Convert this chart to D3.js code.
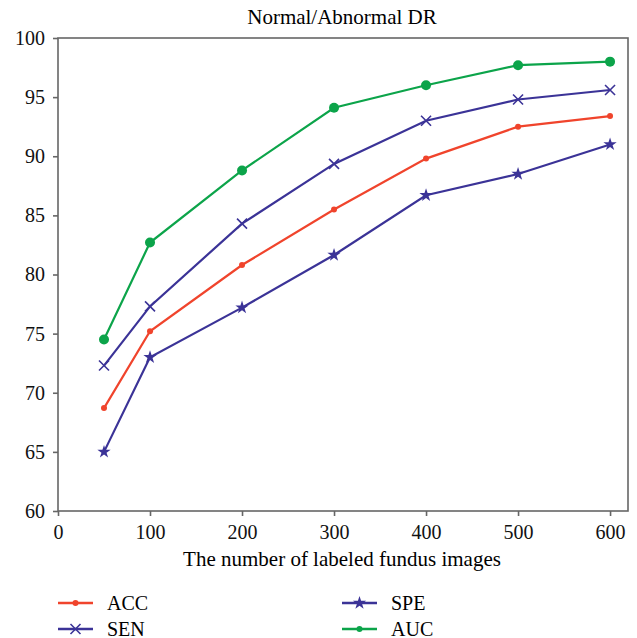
<!DOCTYPE html>
<html>
<head>
    <title>Normal/Abnormal DR</title>
    <script src="https://cdnjs.cloudflare.com/ajax/libs/d3/7.8.5/d3.min.js"></script>
    <style>
        body { margin: 0; background: #fff; }
        svg { font-family: "Liberation Serif", "DejaVu Serif", serif; }
        .tick text { font-size: 20px; fill: #111; }
    </style>
</head>
<body>
<div id="chart"></div>
<script>
const samples = [50, 100, 200, 300, 400, 500, 600];
const accValues = [68.7, 75.2, 80.8, 85.5, 89.8, 92.5, 93.4];
const senValues = [72.3, 77.3, 84.3, 89.35, 93.0, 94.8, 95.6];
const speValues = [65.0, 73.0, 77.2, 81.65, 86.7, 88.5, 91.0];
const aucValues = [74.5, 82.7, 88.8, 94.1, 96.0, 97.7, 98.0];
const xTicks = [0, 100, 200, 300, 400, 500, 600];
const yTicks = [60, 65, 70, 75, 80, 85, 90, 95, 100];

const series = [
    { name: 'ACC', values: accValues, color: '#f0442c', marker: 'dot' },
    { name: 'SEN', values: senValues, color: '#3b3397', marker: 'cross' },
    { name: 'SPE', values: speValues, color: '#3b3397', marker: 'star' },
    { name: 'AUC', values: aucValues, color: '#0ca44a', marker: 'bigdot' }
];

const width = 637, height = 638;
const plotLeft = 58, plotRight = 628, plotTop = 38, plotBottom = 511;

const svg = d3.select('#chart').append('svg')
    .attr('width', width)
    .attr('height', height);

const x = d3.scaleLinear().domain([0, 619.5]).range([plotLeft, plotRight]);
const y = d3.scaleLinear().domain([60, 100]).range([plotBottom, plotTop]);

// frame
svg.append('rect')
    .attr('x', plotLeft).attr('y', plotTop)
    .attr('width', plotRight - plotLeft).attr('height', plotBottom - plotTop)
    .attr('fill', 'none')
    .attr('stroke', '#666')
    .attr('stroke-width', 1.6);

// axes
const xAxis = svg.append('g')
    .attr('transform', `translate(0,${plotBottom})`)
    .call(d3.axisBottom(x).tickValues(xTicks).tickSize(5).tickPadding(9));
const yAxis = svg.append('g')
    .attr('transform', `translate(${plotLeft},0)`)
    .call(d3.axisLeft(y).tickValues(yTicks).tickSize(5).tickPadding(8));
[xAxis, yAxis].forEach(a => {
    a.select('.domain').remove();
    a.selectAll('.tick line').attr('stroke', '#666').attr('stroke-width', 1.6);
    a.selectAll('.tick text').style('font-family', '"Liberation Serif", serif');
});

// title and axis label
svg.append('text')
    .attr('x', 342).attr('y', 24)
    .attr('text-anchor', 'middle')
    .style('font-size', '21px')
    .text('Normal/Abnormal DR');
svg.append('text')
    .attr('x', 342).attr('y', 566)
    .attr('text-anchor', 'middle')
    .style('font-size', '21px')
    .text('The number of labeled fundus images');

const line = d3.line()
    .x((d, i) => x(samples[i]))
    .y(d => y(d));

function drawMarker(g, type, color) {
    if (type === 'dot') {
        g.append('circle').attr('r', 3).attr('fill', color);
    } else if (type === 'bigdot') {
        g.append('circle').attr('r', 5).attr('fill', color);
    } else if (type === 'cross') {
        g.append('path').attr('d', 'M-5,-5L5,5M-5,5L5,-5')
            .attr('stroke', color).attr('stroke-width', 1.6).attr('fill', 'none');
    } else if (type === 'star') {
        g.append('path').attr('d', d3.symbol(d3.symbolStar, 55)())
            .attr('fill', color);
    }
}

series.forEach(s => {
    svg.append('path')
        .datum(s.values)
        .attr('d', line)
        .attr('fill', 'none')
        .attr('stroke', s.color)
        .attr('stroke-width', 2.2);
    s.values.forEach((v, i) => {
        const g = svg.append('g').attr('transform', `translate(${x(samples[i])},${y(v)})`);
        drawMarker(g, s.marker, s.color);
    });
});

// legend
const legendPos = [[58, 603], [58, 629], [342, 603], [342, 629]];
series.forEach((s, i) => {
    const [lx, ly] = legendPos[i];
    const g = svg.append('g').attr('transform', `translate(${lx},${ly})`);
    g.append('line').attr('x1', 0).attr('x2', 35)
        .attr('stroke', s.color).attr('stroke-width', 2.4);
    const m = g.append('g').attr('transform', 'translate(17.5,0)');
    drawMarker(m, s.marker === 'bigdot' ? 'dot' : s.marker, s.color);
    g.append('text')
        .attr('x', 49).attr('y', 6.5)
        .style('font-size', '20px')
        .text(s.name);
});
</script>
</body>
</html>
